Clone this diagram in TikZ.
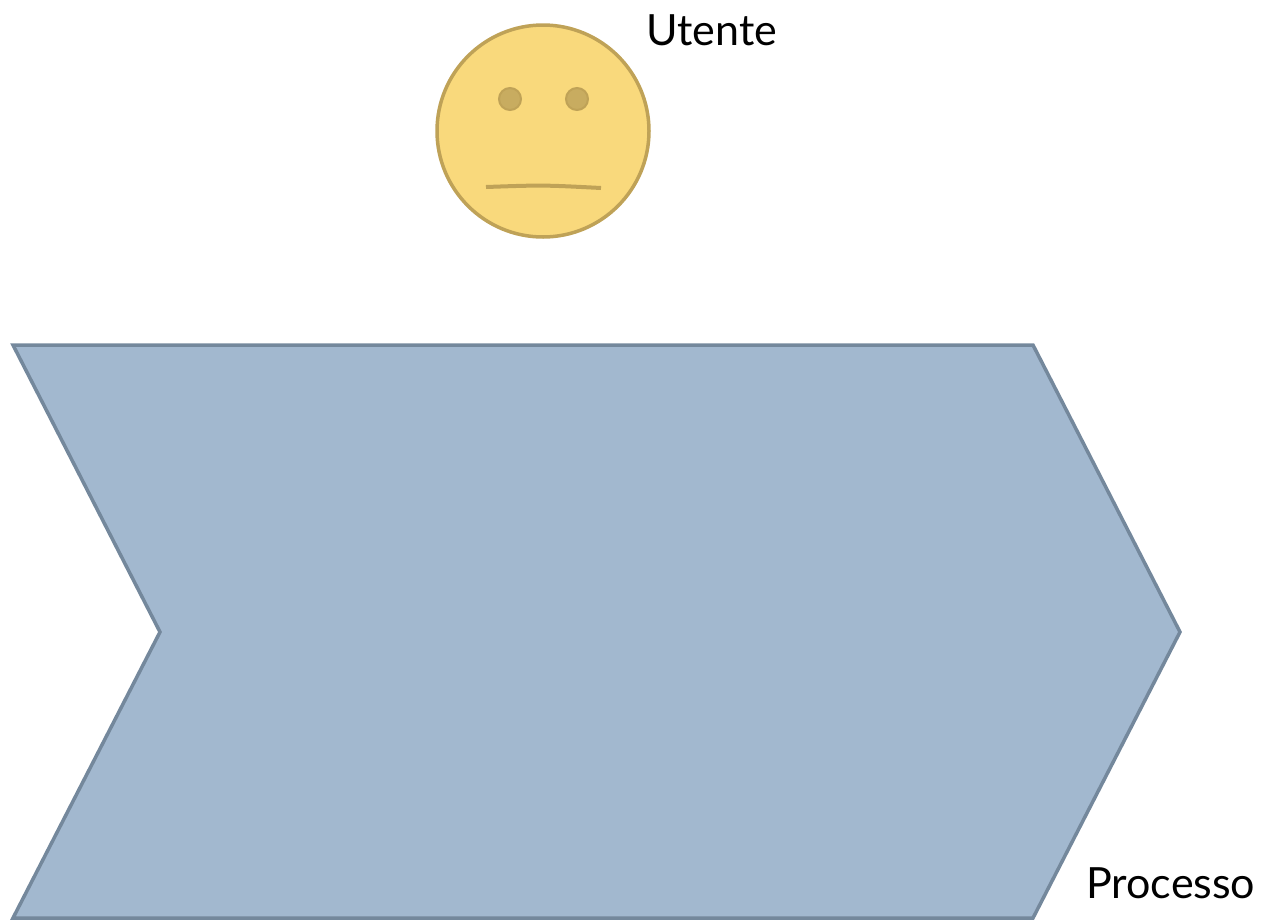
\documentclass[tikz,border=0pt]{standalone}
\usepackage{fontspec}
\setmainfont{Lato}
\usepackage{tikz}
\usetikzlibrary{positioning}
\definecolor{facefill}{HTML}{F9D97C}
\definecolor{faceline}{HTML}{BFA257}
\definecolor{eyefill}{HTML}{C8AC60}
\definecolor{arrowfill}{HTML}{A2B8CF}
\definecolor{arrowline}{HTML}{74889C}

\begin{document}
\begin{tikzpicture}[x=1pt, y=-1pt,
    face/.style={fill=facefill, draw=faceline, line width=3.5pt},
    eye/.style={fill=eyefill, draw=faceline, line width=2pt},
    label/.style={font=\fontsize{43}{50}\selectfont, inner sep=0pt}]
    \useasboundingbox (0,0) rectangle (1272,919);
    % process chevron
    \draw[fill=arrowfill, draw=arrowline, line width=3.5pt, line join=miter]
        (13,345) -- (1033,345) -- (1180,632) -- (1033,918)
        -- (13,918) -- (160,632) -- cycle;
    % user face
    \draw[face] (543,131) circle (106);
    \draw[eye] (510,99) circle (11);
    \draw[eye] (577,99) circle (11);
    \draw[faceline, line width=4pt] (486,187) .. controls (543,185) .. (601,188);
    \node[label, anchor=base west] (utente) at (646,45) {Utente};
    \node[label, anchor=base west] (processo) at (1086,898) {Processo};
\end{tikzpicture}
\end{document}
